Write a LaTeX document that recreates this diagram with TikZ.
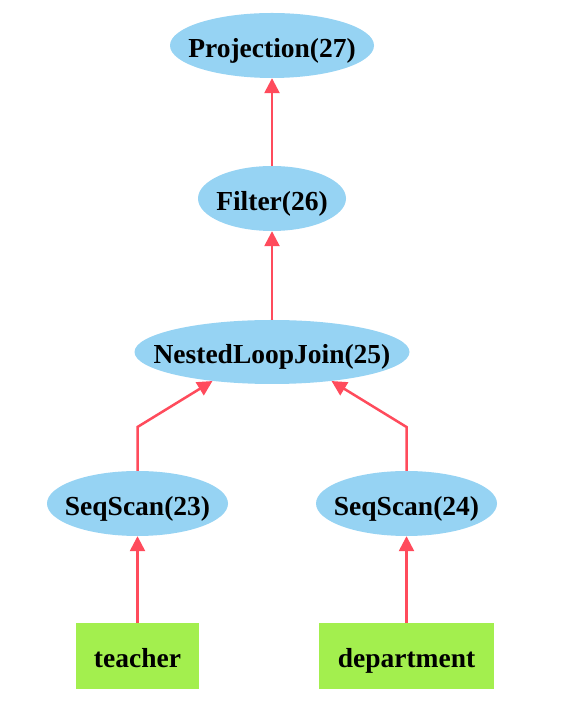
\documentclass[tikz,border=0pt]{standalone}
\usepackage{fontspec}
\setmainfont{Liberation Serif}
\usetikzlibrary{shapes.geometric,arrows.meta}
\definecolor{opblue}{HTML}{96D3F3}
\definecolor{tblgreen}{HTML}{A3EF4E}
\definecolor{edgered}{HTML}{FF4B5C}
\newcommand\nlbl[1]{\makebox[0pt]{\raisebox{-12pt}[0pt][0pt]{#1}}}
\tikzset{
  opnode/.style={ellipse, fill=opblue, inner sep=0pt, minimum height=65pt,
    font=\fontsize{27.5}{30}\selectfont\bfseries},
  tblnode/.style={rectangle, fill=tblgreen, inner sep=0pt, minimum height=66pt,
    font=\fontsize{27.5}{30}\selectfont\bfseries},
  flow/.style={draw=edgered, line width=2.5pt,
    -{Triangle[length=15pt,width=15pt]}},
}
\begin{document}
\begin{tikzpicture}[x=1pt,y=1pt]
\useasboundingbox (0,0) rectangle (565,725);
\node[opnode, minimum width=204pt] (proj) at (272,679.5) {\nlbl{Projection(27)}};
\node[opnode, minimum width=148pt] (filter) at (272,526.5) {\nlbl{Filter(26)}};
\node[opnode, minimum width=275pt, minimum height=64pt] (nlj) at (272,373) {\nlbl{NestedLoopJoin(25)}};
\node[opnode, minimum width=181pt] (s23) at (137.5,221.5) {\nlbl{SeqScan(23)}};
\node[opnode, minimum width=181pt] (s24) at (406.5,221.5) {\nlbl{SeqScan(24)}};
\node[tblnode, minimum width=123pt] (teacher) at (137.5,69) {\nlbl{teacher}};
\node[tblnode, minimum width=175pt] (dept) at (406.5,69) {\nlbl{department}};
\coordinate (b23) at (137.5,298);
\coordinate (b24) at (406.5,298);
\draw[flow] (filter) -- (proj);
\draw[flow] (nlj) -- (filter);
\draw[flow] (s23.north) -- (b23) -- (nlj.206);
\draw[flow] (s24.north) -- (b24) -- (nlj.-26);
\draw[flow] (teacher) -- (s23);
\draw[flow] (dept) -- (s24);
\end{tikzpicture}
\end{document}
